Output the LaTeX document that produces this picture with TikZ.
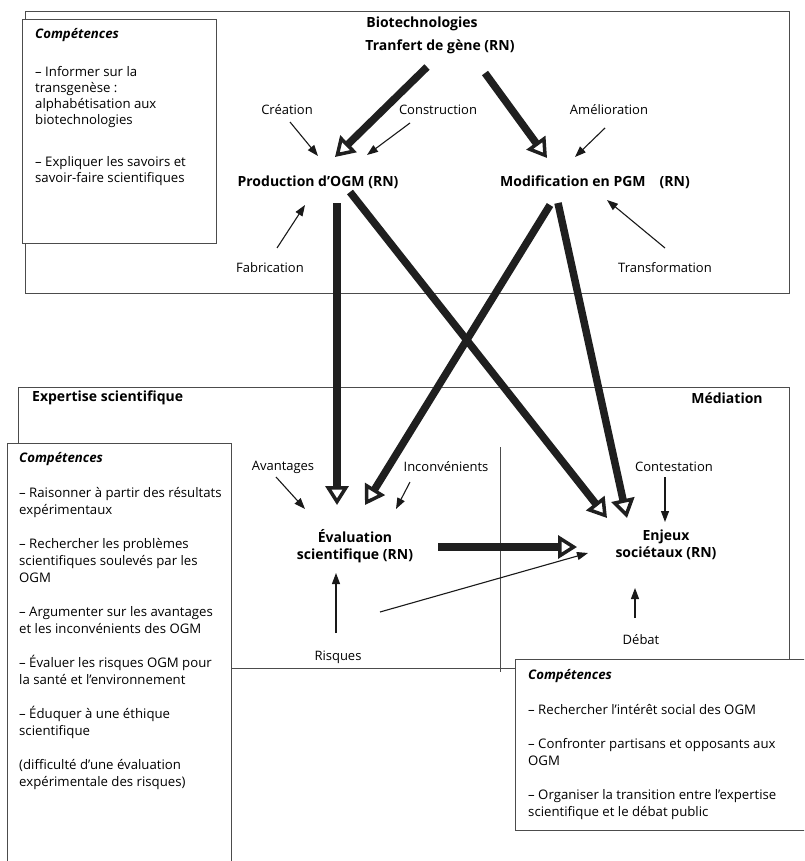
\documentclass[tikz,border=0pt]{standalone}
\usepackage{fontspec}
\setmainfont{Open Sans}
\usetikzlibrary{arrows.meta, calc}
\tikzset{bigarrow/.style={line width=7.5pt, draw=black!88, line join=miter, -{Triangle[open, length=19pt, width=23pt, line width=3.5pt]}}}
\tikzset{smallarrow/.style={line width=1.1pt, draw=black!90, -{Triangle[length=11pt, width=8pt]}}}
\tikzset{panel/.style={draw=black!70, line width=0.8pt}}
\tikzset{competence/.style={anchor=north west, inner sep=0, align=left, font=\fontsize{13.2}{17}\selectfont}}
\tikzset{lbl/.style={inner sep=0, font=\fontsize{13}{14}\selectfont}}
\tikzset{concept/.style={inner sep=0, align=center, font=\bfseries\fontsize{14}{17}\selectfont}}
\newcommand{\comptitle}{\textbf{\textit{Compétences}}}

\begin{document}
\begin{tikzpicture}[x=1pt, y=-1pt]
            \useasboundingbox (0, 0) rectangle (804, 861);
            \clip (0, 0) rectangle (804, 861);
            \fill[white] (0, 0) rectangle (804, 861);
            % cadres
            \draw[panel] (25, 11) rectangle (789, 293);
            \draw[panel] (18, 387) rectangle (789, 668);
            \draw[panel] (500, 447) -- (500, 672);
            \draw[panel, fill=white] (22, 19) rectangle (216, 243);
            \draw[panel, fill=white] (7, 443) rectangle (231, 875);
            \draw[panel, fill=white] (515, 659) rectangle (820, 830);
            % competences
            \node[competence, font=\fontsize{13.2}{16}\selectfont] (compbio) at (35, 28) {\comptitle\\[22pt]
                – Informer sur la\\ transgenèse :\\ alphabétisation aux\\ biotechnologies\\[26pt]
                – Expliquer les savoirs et\\ savoir-faire scientifiques};
            \node[competence] (compexp) at (19, 452) {\comptitle\\[18pt]
                – Raisonner à partir des résultats\\ expérimentaux\\[17pt]
                – Rechercher les problèmes\\ scientifiques soulevés par les\\ OGM\\[17pt]
                – Argumenter sur les avantages\\ et les inconvénients des OGM\\[17pt]
                – Évaluer les risques OGM pour\\ la santé et l’environnement\\[17pt]
                – Éduquer à une éthique\\ scientifique\\[17pt]
                (difficulté d’une évaluation\\ expérimentale des risques)};
            \node[competence] (compmed) at (528, 669) {\comptitle\\[18pt]
                – Rechercher l’intérêt social des OGM\\[17pt]
                – Confronter partisans et opposants aux\\ OGM\\[17pt]
                – Organiser la transition entre l’expertise\\ scientifique et le débat public};
            % biotechnologies
            \node[concept] (bio) at (422, 24) {Biotechnologies};
            \node[concept] (tg) at (440, 47) {Tranfert de gène (RN)};
            \node[concept] (prod) at (318, 182) {Production d’OGM (RN)};
            \node[concept] (mod) at (595, 182) {Modification en PGM\quad(RN)};
            \node[lbl] (creation) at (287, 110) {Création};
            \node[lbl] (construction) at (438, 110) {Construction};
            \node[lbl] (amelioration) at (609, 110) {Amélioration};
            \node[lbl] (fabrication) at (270, 268) {Fabrication};
            \node[lbl] (transformation) at (665, 268) {Transformation};
            % expertise et mediation
            \node[concept, anchor=west] (expertise) at (32, 398) {Expertise scientifique};
            \node[concept] (mediation) at (727, 398) {Médiation};
            \node[concept] (eval) at (355, 546) {Évaluation\\ scientifique (RN)};
            \node[concept] (enjeux) at (666, 545) {Enjeux\\ sociétaux (RN)};
            \node[lbl] (avantages) at (283, 467) {Avantages};
            \node[lbl] (inconvenients) at (446, 467) {Inconvénients};
            \node[lbl] (contestation) at (674, 467) {Contestation};
            \node[lbl] (debat) at (641, 640) {Débat};
            \node[lbl] (risques) at (338, 657) {Risques};
            % fleches epaisses
            \draw[bigarrow] ($(tg) + (-13, 20)$) -- ($(prod) + (17, -25)$);
            \draw[bigarrow] ($(tg) + (45, 26)$) -- ($(mod) + (-48, -24)$);
            \draw[bigarrow] ($(prod) + (19, 21)$) -- ($(eval) + (-18, -41)$);
            \draw[bigarrow] ($(prod) + (32, 10)$) -- ($(enjeux) + (-59, -27)$);
            \draw[bigarrow] ($(mod) + (-45, 23)$) -- ($(eval) + (10, -41)$);
            \draw[bigarrow] ($(mod) + (-37, 21)$) -- ($(enjeux) + (-39, -27)$);
            \draw[bigarrow] ($(eval) + (83, 1)$) -- ($(enjeux) + (-89, 2)$);
            % fleches fines
            \draw[smallarrow] ($(creation) + (3, 12)$) -- ($(prod) + (0, -26)$);
            \draw[smallarrow] ($(construction) + (-28, 13)$) -- ($(prod) + (49, -27)$);
            \draw[smallarrow] ($(amelioration) + (-4, 18)$) -- ($(mod) + (-20, -25)$);
            \draw[smallarrow] ($(fabrication) + (7, -20)$) -- ($(prod) + (-13, 23)$);
            \draw[smallarrow] ($(transformation) + (0, -20)$) -- ($(mod) + (12, 18)$);
            \draw[smallarrow] ($(avantages) + (-7, 10)$) -- ($(eval) + (-50, -37)$);
            \draw[smallarrow] ($(inconvenients) + (-36, 15)$) -- ($(eval) + (41, -37)$);
            \draw[smallarrow] ($(contestation) + (-9, 10)$) -- ($(enjeux) + (-1, -23)$);
            \draw[smallarrow] ($(debat) + (-6, -22)$) -- ($(enjeux) + (-31, 43)$);
            \draw[smallarrow] ($(risques) + (-2, -24)$) -- ($(eval) + (-19, 27)$);
            \draw[smallarrow] ($(risques) + (42, -45)$) -- ($(enjeux) + (-78, 8)$);
        \end{tikzpicture}
\end{document}
